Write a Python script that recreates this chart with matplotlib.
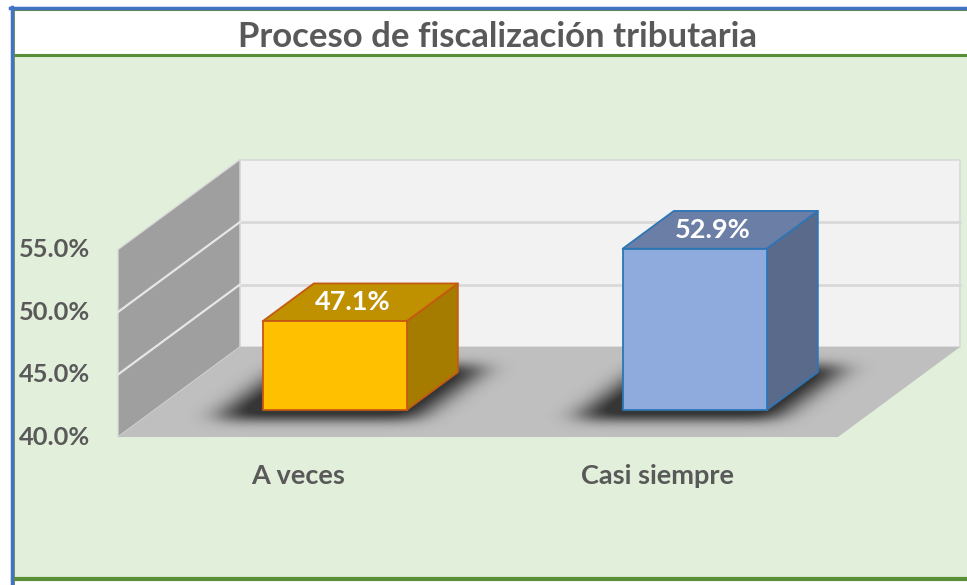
import matplotlib
matplotlib.use("Agg")
import matplotlib.pyplot as plt
from matplotlib.patches import Polygon, Rectangle
import numpy as np

# ---- data ----
title = "Proceso de fiscalización tributaria"
categories = ["A veces", "Casi siempre"]
values = [47.1, 52.9]
yticks = [40, 45, 50, 55]
ytick_labels = ["40.0%", "45.0%", "50.0%", "55.0%"]

# ---- styles ----
face_cols = ["#FFC000", "#8FAADC"]
top_cols = ["#BF9000", "#6A7EA6"]
side_cols = ["#A57C00", "#5A6A8A"]
edge_cols = ["#C55A11", "#2E75B6"]
txt = "#595959"
FONT = ["Lato", "DejaVu Sans"]

W, H = 967, 585
fig = plt.figure(figsize=(W / 100, H / 100), dpi=100)
fig.patch.set_facecolor("white")

# decoration axes in pixel coordinates
deco = fig.add_axes([0, 0, 1, 1])
deco.set_xlim(0, W)
deco.set_ylim(H, 0)
deco.axis("off")
deco.add_patch(Rectangle((13, 10), W - 13, 568, facecolor="#E2EFDA", edgecolor="none"))
deco.add_patch(Rectangle((13, 10), W - 13, 45, facecolor="white", edgecolor="none"))
deco.plot([13, W], [55, 55], color="#5A8F3A", lw=2.2)
deco.plot([13, W], [579, 579], color="#5A8F3A", lw=3)
deco.plot([13, W], [10, 10], color="#5A8F3A", lw=1.5)
deco.plot([13.5, 13.5], [10, H], color="#5A8F3A", lw=1.2)
deco.plot([10, W], [8, 8], color="#4472C4", lw=2.5)
deco.plot([11.5, 11.5], [7, H], color="#4472C4", lw=2.5)
deco.text(498, 37, title, ha="center", va="center", fontsize=25, fontweight="bold",
          color=txt, family=FONT)

# chart axes: x in category units, y in value units (percent)
PX_PER_CAT = 360.0
PX_PER_PCT = 12.5
X0_PX, Y40_PX = 118.0, 437.0
ax = fig.add_axes([0, 0, 1, 1], zorder=2)
ax.patch.set_alpha(0)
ax.axis("off")
XLIM = (-X0_PX / PX_PER_CAT, (W - X0_PX) / PX_PER_CAT)
YLIM = (40 - (H - Y40_PX) / PX_PER_PCT, 40 + Y40_PX / PX_PER_PCT)

DX = 122.0 / PX_PER_CAT   # depth offset in category units
DV = 90.0 / PX_PER_PCT    # depth offset in value units
vmin, vmax = yticks[0], yticks[-1]
ncat = len(categories)


def P(x, v, d):
    return (x + d * DX, v + d * DV)


def poly(pts, **kw):
    p = Polygon([P(*q) for q in pts], closed=True, **kw)
    ax.add_patch(p)
    return p


# walls
poly([(0, vmin, 1), (ncat, vmin, 1), (ncat, vmax, 1), (0, vmax, 1)],
     facecolor="#F2F2F2", edgecolor="#D9D9D9", lw=1.2, zorder=1)
poly([(0, vmin, 0), (0, vmin, 1), (0, vmax, 1), (0, vmax, 0)],
     facecolor="#9F9F9F", edgecolor="#D9D9D9", lw=1.0, zorder=1)
floor = poly([(0, vmin, 0), (ncat, vmin, 0), (ncat, vmin, 1), (0, vmin, 1)],
             facecolor="#BFBFBF", edgecolor="none", zorder=1)

for t in yticks[1:-1]:
    xs, ys = zip(P(0, t, 1), P(ncat, t, 1))
    ax.plot(xs, ys, color="#D9D9D9", lw=2, zorder=2)
    xs, ys = zip(P(0, t, 0), P(0, t, 1))
    ax.plot(xs, ys, color="#E6E6E6", lw=1.6, zorder=2)

HW = 0.2
D0, D1 = 0.3, 0.72

# soft shadows under the bars (blurred footprint raster on the floor)
gx = np.arange(XLIM[0], XLIM[1], 1 / PX_PER_CAT)
gv = np.arange(vmin - 3, vmin + DV + 3, 1 / PX_PER_PCT)
GX, GV = np.meshgrid(gx, gv)
depth = (GV - vmin) / DV
mask = np.zeros_like(GX)
for i in range(ncat):
    c = i + 0.5 - 8 / PX_PER_CAT
    x0 = GX - depth * DX
    inside = ((depth >= D0 - 0.1) & (depth <= D1 + 0.08) &
              (x0 >= c - HW - 28 / PX_PER_CAT) & (x0 <= c + HW + 28 / PX_PER_CAT))
    mask[inside] = 1.0


def gauss_blur(a, sx, sy):
    def k(s):
        r = int(3 * s)
        t = np.arange(-r, r + 1)
        w = np.exp(-t ** 2 / (2 * s * s))
        return w / w.sum()
    kx, ky = k(sx), k(sy)
    a = np.apply_along_axis(lambda m: np.convolve(m, kx, mode="same"), 1, a)
    a = np.apply_along_axis(lambda m: np.convolve(m, ky, mode="same"), 0, a)
    return a


blur = gauss_blur(mask, 15, 6)
rgba = np.zeros(blur.shape + (4,))
rgba[..., 3] = np.clip(blur * 1.2, 0, 1) * 0.72
im = ax.imshow(rgba, extent=(gx[0], gx[-1], gv[0], gv[-1]), origin="lower",
               aspect="auto", interpolation="bilinear", zorder=3)
im.set_clip_path(floor)

# bars
for i, (cat, v) in enumerate(zip(categories, values)):
    c = i + 0.5
    l, r = c - HW, c + HW
    kw = dict(edgecolor=edge_cols[i], lw=1.3, joinstyle="round", zorder=4)
    poly([(r, vmin, D0), (r, vmin, D1), (r, v, D1), (r, v, D0)], facecolor=side_cols[i], **kw)
    poly([(l, v, D0), (r, v, D0), (r, v, D1), (l, v, D1)], facecolor=top_cols[i], **kw)
    poly([(l, vmin, D0), (r, vmin, D0), (r, v, D0), (l, v, D0)], facecolor=face_cols[i], **kw)
    lx, ly = P(c - 0.02, v, (D0 + D1) / 2)
    ax.text(lx, ly, f"{v:.1f}%", ha="center", va="center", fontsize=19.5, fontweight="bold",
            color="white", family=FONT, zorder=6)
    cx, cy = P(c, vmin, 0)
    ax.annotate(cat, (cx, cy), xytext=(0, -39), textcoords="offset pixels",
                ha="center", va="center", fontsize=19.5, fontweight="bold",
                color=txt, family=FONT, zorder=6)

for t, lab in zip(yticks, ytick_labels):
    ax.annotate(lab, P(0, t, 0), xytext=(-28, 0), textcoords="offset pixels",
                ha="right", va="center", fontsize=18.3, fontweight="bold",
                color=txt, family=FONT, zorder=6)

ax.set_xlim(*XLIM)
ax.set_ylim(*YLIM)
fig.savefig("out.png", dpi=100)
